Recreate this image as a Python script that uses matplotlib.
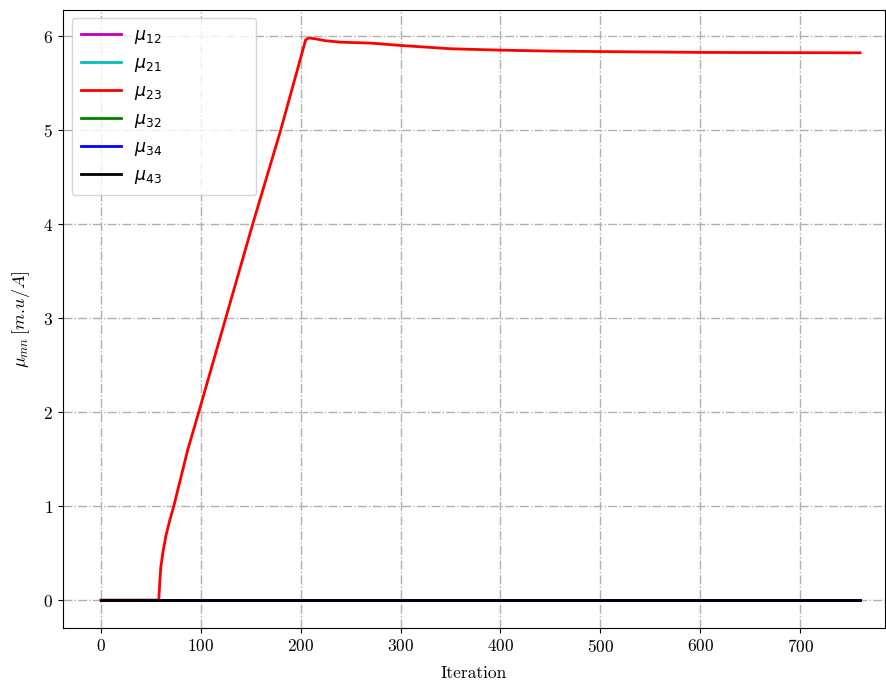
import matplotlib
matplotlib.use('Agg')
import matplotlib.pyplot as plt
from matplotlib.font_manager import FontProperties

# red curve (mu_23) key points
it_23 = [0, 58, 59, 60, 62, 65, 69, 73, 80, 87, 98, 125, 152, 180, 205, 208,
         215, 225, 240, 270, 300, 350, 400, 450, 500, 600, 700, 760]
mu_23 = [0, 0, 0.2, 0.35, 0.5, 0.68, 0.85, 1.0, 1.3, 1.6, 2.0, 3.0, 4.0, 5.0,
         5.96, 5.98, 5.97, 5.95, 5.935, 5.925, 5.90, 5.865, 5.85, 5.84, 5.835,
         5.826, 5.823, 5.822]

# flat series
it_flat = [0, 760]
mu_12 = [0, 0]
mu_21 = [0, 0]
mu_32 = [0, 0]
mu_34 = [0, 0]
mu_43 = [0, 0]

labels = [r'$\mu_{12}$', r'$\mu_{21}$', r'$\mu_{23}$', r'$\mu_{32}$',
          r'$\mu_{34}$', r'$\mu_{43}$']
colors = ['m', 'c', 'r', 'g', 'b', 'k']

plt.rcParams['font.family'] = 'serif'
plt.rcParams['font.serif'] = ['cmr10']
plt.rcParams['mathtext.fontset'] = 'cm'
plt.rcParams['axes.formatter.use_mathtext'] = True
plt.rcParams['axes.unicode_minus'] = False

fig = plt.figure(figsize=(8.86, 6.95), dpi=100)
ax = fig.add_axes([0.071, 0.096, 0.928, 0.890])

series = [(it_flat, mu_12), (it_flat, mu_21), (it_23, mu_23),
          (it_flat, mu_32), (it_flat, mu_34), (it_flat, mu_43)]
for (x, y), lab, c in zip(series, labels, colors):
    ax.plot(x, y, color=c, lw=2, label=lab)

ax.set_xlim(-38, 785)
ax.set_ylim(-0.3, 6.28)
ax.set_xticks(range(0, 800, 100))
ax.set_yticks(range(0, 7))
ax.tick_params(labelsize=12.5)
ax.grid(True, linestyle='-.', color='#b0b0b0', lw=1)

ax.set_xlabel('Iteration', fontsize=12.5, labelpad=8)
ax.set_ylabel(r'$\mu_{mn}\,[m.\!u/A]$', fontsize=13, labelpad=8)

leg_font = FontProperties(family='DejaVu Sans', size=12.5,
                          math_fontfamily='dejavusans')
ax.legend(loc='upper left', bbox_to_anchor=(0.011, 0.987, 0.224, 0),
          mode='expand', borderaxespad=0, prop=leg_font, handlelength=2.3,
          labelspacing=0.46, borderpad=0.5)

fig.savefig('out.png', dpi=100)
